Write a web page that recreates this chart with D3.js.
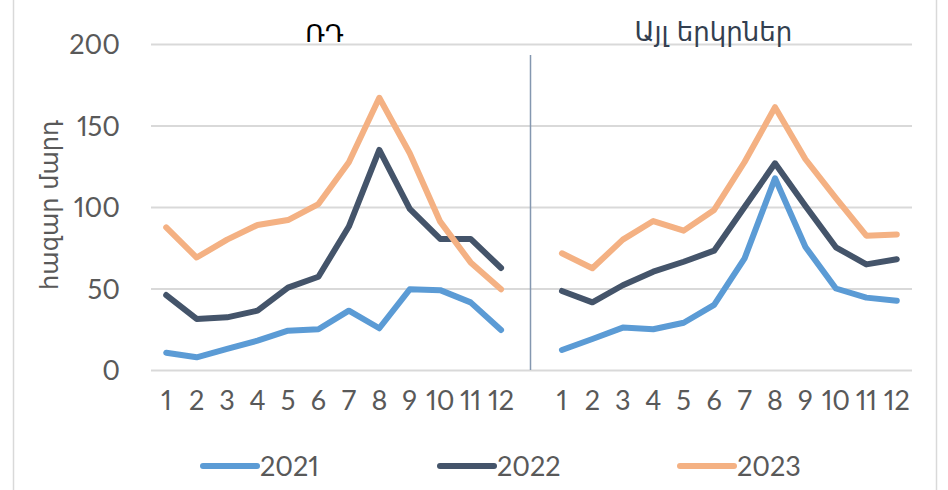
<!DOCTYPE html>
<html>
<head>
<meta charset="utf-8">
<script src="https://cdn.jsdelivr.net/npm/d3@7"></script>
<style>
    body { margin: 0; background: #fff; }
    svg text { font-family: Lato, "DejaVu Sans", sans-serif; font-variant-numeric: proportional-nums; }
</style>
</head>
<body>
<script>
var months = ['1', '2', '3', '4', '5', '6', '7', '8', '9', '10', '11', '12'];
var groups = ['ՌԴ', 'Այլ երկրներ'];
var years = ['2021', '2022', '2023'];
var yTicks = [0, 50, 100, 150, 200];

// ՌԴ
var rd2021 = [10.6, 7.8, 12.9, 18, 24.1, 25, 36.4, 25.6, 49.5, 49, 41.5, 24.5];
var rd2022 = [46, 31.3, 32.3, 36.4, 50.5, 57.2, 88, 135, 98.8, 80.4, 80.4, 62.6];
var rd2023 = [87.5, 69, 80, 89, 92, 101.8, 127.4, 167, 133, 91, 66, 49.5];
// Այլ երկրներ
var ot2021 = [12.3, 19, 26, 25, 29, 39.9, 68.5, 117.6, 75.5, 50, 44.4, 42.5];
var ot2022 = [48.5, 41.5, 52, 60.3, 66.4, 73.2, 100, 126.8, 100.6, 75.3, 64.8, 67.9];
var ot2023 = [71.6, 62.4, 80, 91.4, 85.5, 98.2, 127.6, 161.2, 129.3, 105.5, 82.4, 83.2];

var colors = ['#5B9BD5', '#44546A', '#F4B183'];
var series = [
    {year: years[0], a: rd2021, b: ot2021},
    {year: years[1], a: rd2022, b: ot2022},
    {year: years[2], a: rd2023, b: ot2023}
];

var width = 948, height = 490;
var plotLeft = 151, plotRight = 912, plotTop = 44, plotBottom = 370;

var svg = d3.select('body').append('svg')
    .attr('width', width)
    .attr('height', height);

// chart frame (only the sides show)
svg.append('line').attr('x1', 13.5).attr('x2', 13.5).attr('y1', 0).attr('y2', height)
    .attr('stroke', '#d9d9d9').attr('stroke-width', 1.5);
svg.append('line').attr('x1', 936.5).attr('x2', 936.5).attr('y1', 0).attr('y2', height)
    .attr('stroke', '#d9d9d9').attr('stroke-width', 1.5);

// categories: 12 + gap + 12
var keys = months.map(m => 'a' + m).concat(['gap']).concat(months.map(m => 'b' + m));
var x = d3.scaleBand().domain(keys).range([plotLeft, plotRight]).padding(0);
var cx = k => x(k) + x.bandwidth() / 2;

var y = d3.scaleLinear().domain([0, 200]).range([plotBottom, plotTop]);

// grid
var grid = d3.axisLeft(y).tickValues(yTicks).tickSize(-(plotRight - plotLeft)).tickFormat('');
svg.append('g')
    .attr('transform', `translate(${plotLeft},0)`)
    .call(grid)
    .call(g => g.select('.domain').remove())
    .call(g => g.selectAll('line').attr('stroke', '#d9d9d9').attr('stroke-width', 2));

// y labels
svg.append('g')
    .attr('transform', `translate(${plotLeft - 28},0)`)
    .call(d3.axisLeft(y).tickValues(yTicks).tickSize(0))
    .call(g => g.select('.domain').remove())
    .call(g => g.selectAll('text')
        .attr('fill', '#595959')
        .attr('font-size', 27)
        .attr('dy', '0.36em'));

// x labels
svg.append('g')
    .attr('transform', `translate(0,${plotBottom + 10})`)
    .call(d3.axisBottom(x).tickValues(keys.filter(k => k !== 'gap')).tickSize(0).tickFormat(k => k.slice(1)))
    .call(g => g.select('.domain').remove())
    .call(g => g.selectAll('text')
        .attr('fill', '#595959')
        .attr('font-size', 27)
        .attr('dy', '1em'));

// divider between groups
svg.append('line')
    .attr('x1', cx('gap') - 1).attr('x2', cx('gap') - 1)
    .attr('y1', 55).attr('y2', plotBottom)
    .attr('stroke', '#8497b0').attr('stroke-width', 1.5);

// group titles
svg.append('text')
    .attr('x', (cx('a1') + cx('a12')) / 2 - 9)
    .attr('y', 42)
    .attr('text-anchor', 'middle')
    .attr('font-size', 25)
    .style('font-family', '"DejaVu Sans", sans-serif')
    .attr('fill', '#000')
    .text(groups[0]);
svg.append('text')
    .attr('x', (cx('b1') + cx('b12')) / 2 - 16)
    .attr('y', 41)
    .attr('text-anchor', 'middle')
    .attr('font-size', 26)
    .style('font-family', '"DejaVu Sans", sans-serif')
    .attr('fill', '#333f50')
    .text(groups[1]);

// y axis title
svg.append('text')
    .attr('transform', `translate(58,205) rotate(-90)`)
    .attr('text-anchor', 'middle')
    .attr('font-size', 24)
    .style('font-family', '"DejaVu Sans", sans-serif')
    .attr('fill', '#595959')
    .text('հազար մարդ');

// lines
var line = d3.line().x(d => cx(d.k)).y(d => y(d.v));
series.forEach((s, i) => {
    ['a', 'b'].forEach(p => {
        var pts = s[p].map((v, j) => ({k: p + months[j], v: v}));
        svg.append('path')
            .datum(pts)
            .attr('d', line)
            .attr('fill', 'none')
            .attr('stroke', colors[i])
            .attr('stroke-width', 6)
            .attr('stroke-linecap', 'round')
            .attr('stroke-linejoin', 'round');
    });
});

// legend
var legX = [203, 440, 680];
var legend = svg.append('g');
years.forEach((yr, i) => {
    legend.append('line')
        .attr('x1', legX[i]).attr('x2', legX[i] + 54)
        .attr('y1', 466).attr('y2', 466)
        .attr('stroke', colors[i])
        .attr('stroke-width', 6)
        .attr('stroke-linecap', 'round');
    legend.append('text')
        .attr('x', legX[i] + 57)
        .attr('y', 476)
        .attr('font-size', 27)
        .attr('fill', '#595959')
        .text(yr);
});
</script>
</body>
</html>
